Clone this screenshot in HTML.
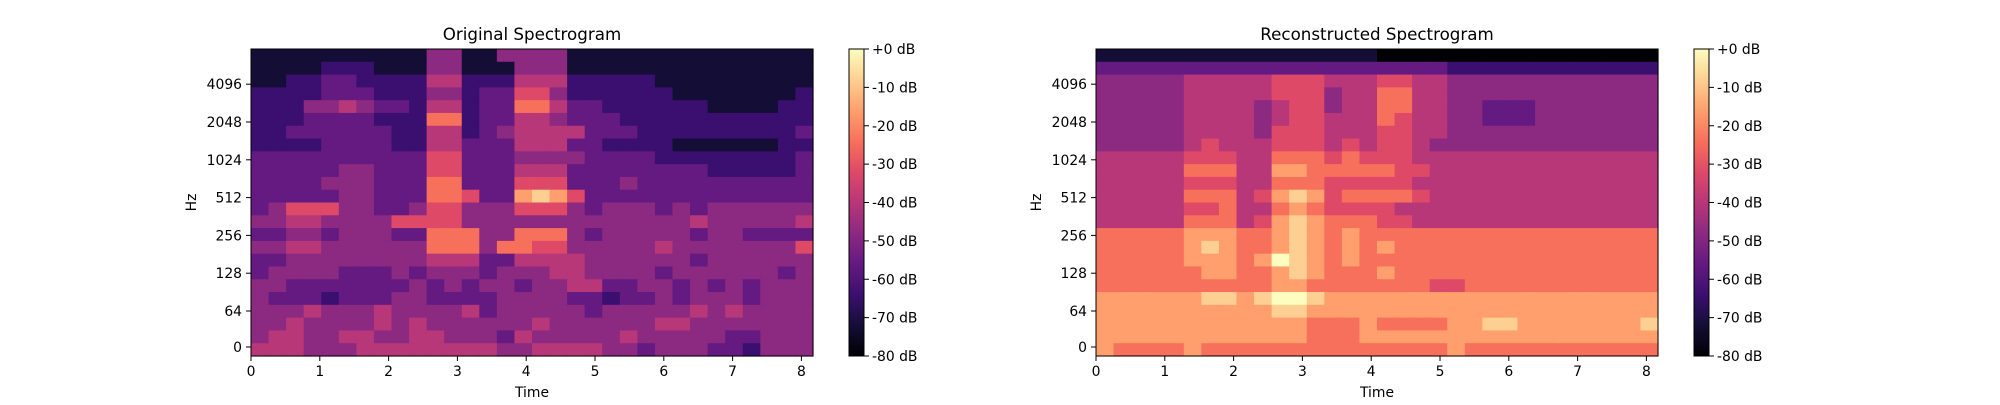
<!DOCTYPE html>
<html><head><meta charset="utf-8"><style>
html,body{margin:0;padding:0;background:#fff;}
svg text{font-family:"DejaVu Sans","Liberation Sans",sans-serif;fill:#000;}
</style></head><body>
<svg id="fig" width="2000" height="400" viewBox="0 0 2000 400" xmlns="http://www.w3.org/2000/svg">
<defs><linearGradient id="magma" x1="0" y1="1" x2="0" y2="0"></linearGradient></defs>
</svg>
<script>
const xTicks = [0,1,2,3,4,5,6,7,8];
const yTickLabels = ["0","64","128","256","512","1024","2048","4096"];
const yTickPos = [0,1,2,3,4,5,6,7];
const cbTicks = [0,-10,-20,-30,-40,-50,-60,-70,-80];
const titles = ["Original Spectrogram","Reconstructed Spectrogram"];
const origRows = [
"11111111114411444411111111111111",
"11112221114411144411111111111111",
"11223322225522255522222111111111",
"22223332224423366422222211111112",
"22244543325523377533222222111122",
"22233332227723355433322222222222",
"22333333225523455553332222222223",
"22223333225533355533222211111122",
"33333333336633344443333222222223",
"33333443336633355533333333222223",
"33334443337733366633343333333333",
"33333443337763389863333333333333",
"34666443346644466643444343444444",
"44554444666644444444444445444445",
"33443444337774477743444443443333",
"44554444447774776644444544444446",
"33444444445553355554444443444444",
"34444333434443444554444344444434",
"44333333343434434455334434343444",
"43332333443333444433233434443444",
"44454445444453444443444445454444",
"44544445454444445444444554444444",
"45544554455444354444454444433444",
"55544455555555445555443444332444"];
const reconRows = [
"11111111111111110000000000000000",
"33333333333333333333222222222222",
"44444555556665556655444444444444",
"44444555556664557755444444444444",
"44444555545664557755443334444444",
"44444555545665557655443334444444",
"44444555546665556655444444444444",
"44444565556665656654444444444444",
"55555666557776766655555555555555",
"55555777558877777665555555555555",
"55555666557776666655555555555555",
"55555777568986777765555555555555",
"55555667557876666555555555555555",
"55555777568987776655555555555555",
"77777888778987877777777777777777",
"77777898778987878777777777777777",
"7777788878a987877777777777777777",
"77777788778987778777777777777777",
"77777777778877777776677777777777",
"8888889989aa98888888888888888888",
"88888888889988888888888888888888",
"88888888888877787777889988888889",
"88888888888877788888888888888888",
"87777877777777777777877777777777"];

const NS="http://www.w3.org/2000/svg";
const svg=document.getElementById('fig');
const stops=[[0,[0,0,4]],[.1,[20,14,54]],[.2,[59,15,112]],[.3,[100,26,128]],[.4,[140,41,129]],[.5,[183,55,121]],[.6,[222,73,104]],[.7,[247,112,92]],[.8,[254,159,109]],[.9,[254,207,146]],[1,[252,253,191]]];
function magma(t){t=Math.max(0,Math.min(1,t));for(let i=1;i<stops.length;i++){if(t<=stops[i][0]){const a=stops[i-1],b=stops[i];const f=(t-a[0])/(b[0]-a[0]);const c=a[1].map((v,k)=>Math.round(v+(b[1][k]-v)*f));return `rgb(${c[0]},${c[1]},${c[2]})`;}}return 'rgb(252,253,191)';}
function el(tag,attrs,parent){const e=document.createElementNS(NS,tag);for(const k in attrs)e.setAttribute(k,attrs[k]);(parent||svg).appendChild(e);return e;}
const grad=document.getElementById('magma');
for(let i=0;i<=20;i++){el('stop',{offset:(i/20),'stop-color':magma(i/20)},grad);}
const AX_TOP=49,AX_BOT=356,AX_W=562;
const lefts=[251,1096];
const datas=[origRows,reconRows];
function digitToDb(d){return -80+d*8;}
for(let p=0;p<2;p++){
  const L=lefts[p];
  const g=el('g',{});
  
  
  const rows=datas[p];
  const nR=rows.length,nC=32;
  const xCell=c=>L+c*AX_W/nC;
  const yCell=r=>AX_TOP+r*(AX_BOT-AX_TOP)/nR;
  for(let r=0;r<nR;r++){
    for(let c=0;c<nC;c++){
      const d=parseInt(rows[r][c]||rows[r][rows[r].length-1],36);
      const db=digitToDb(d);
      const rc=el('rect',{x:xCell(c),y:yCell(r),width:AX_W/nC+0.6,height:(AX_BOT-AX_TOP)/nR+0.6,fill:magma((db+80)/80)},g);
      
      
    }
  }
  const fr=el('rect',{x:L,y:AX_TOP,width:AX_W,height:AX_BOT-AX_TOP,fill:'none',stroke:'#000','stroke-width':1},g);
  
  
  const tt=el('text',{x:L+AX_W/2,y:40,'font-size':'16.7','text-anchor':'middle'},g);
  tt.textContent=titles[p];
  
  
  const xs=t=>L+t*68.8;
  xTicks.forEach(t=>{
    el('line',{x1:xs(t),x2:xs(t),y1:AX_BOT,y2:AX_BOT+5,stroke:'#000'},g);
    const tx=el('text',{x:xs(t),y:AX_BOT+20,'font-size':'13.9','text-anchor':'middle'},g);
    tx.textContent=String(t);
    
    
  });
  const xl=el('text',{x:L+AX_W/2,y:397,'font-size':'13.9','text-anchor':'middle'},g);
  xl.textContent='Time';
  
  
  yTickPos.forEach((i,k)=>{
    const y = i===0?347:311-(i-1)*37.8;
    el('line',{x1:L-5,x2:L,y1:y,y2:y,stroke:'#000'},g);
    const ty=el('text',{x:L-9,y:y+5,'font-size':'13.9','text-anchor':'end'},g);
    ty.textContent=yTickLabels[k];
    
    
  });
  const yl=el('text',{x:0,y:0,'font-size':'13.9','text-anchor':'middle',transform:`translate(${L-55},${(AX_TOP+AX_BOT)/2}) rotate(-90)`},g);
  yl.textContent='Hz';
  
  
  const CX=L+598;
  const cb=el('rect',{x:CX,y:AX_TOP,width:15,height:AX_BOT-AX_TOP,fill:'url(#magma)',stroke:'#000','stroke-width':1},g);
  
  
  const cy=v=>AX_TOP+(-v)/80*(AX_BOT-AX_TOP);
  cbTicks.forEach(v=>{
    el('line',{x1:CX+15,x2:CX+20,y1:cy(v),y2:cy(v),stroke:'#000'},g);
    const ct=el('text',{x:CX+23,y:cy(v)+5,'font-size':'13.9'},g);
    ct.textContent=(v===0?'+0':String(v))+' dB';
    
    
  });
}
</script>
</body></html>
